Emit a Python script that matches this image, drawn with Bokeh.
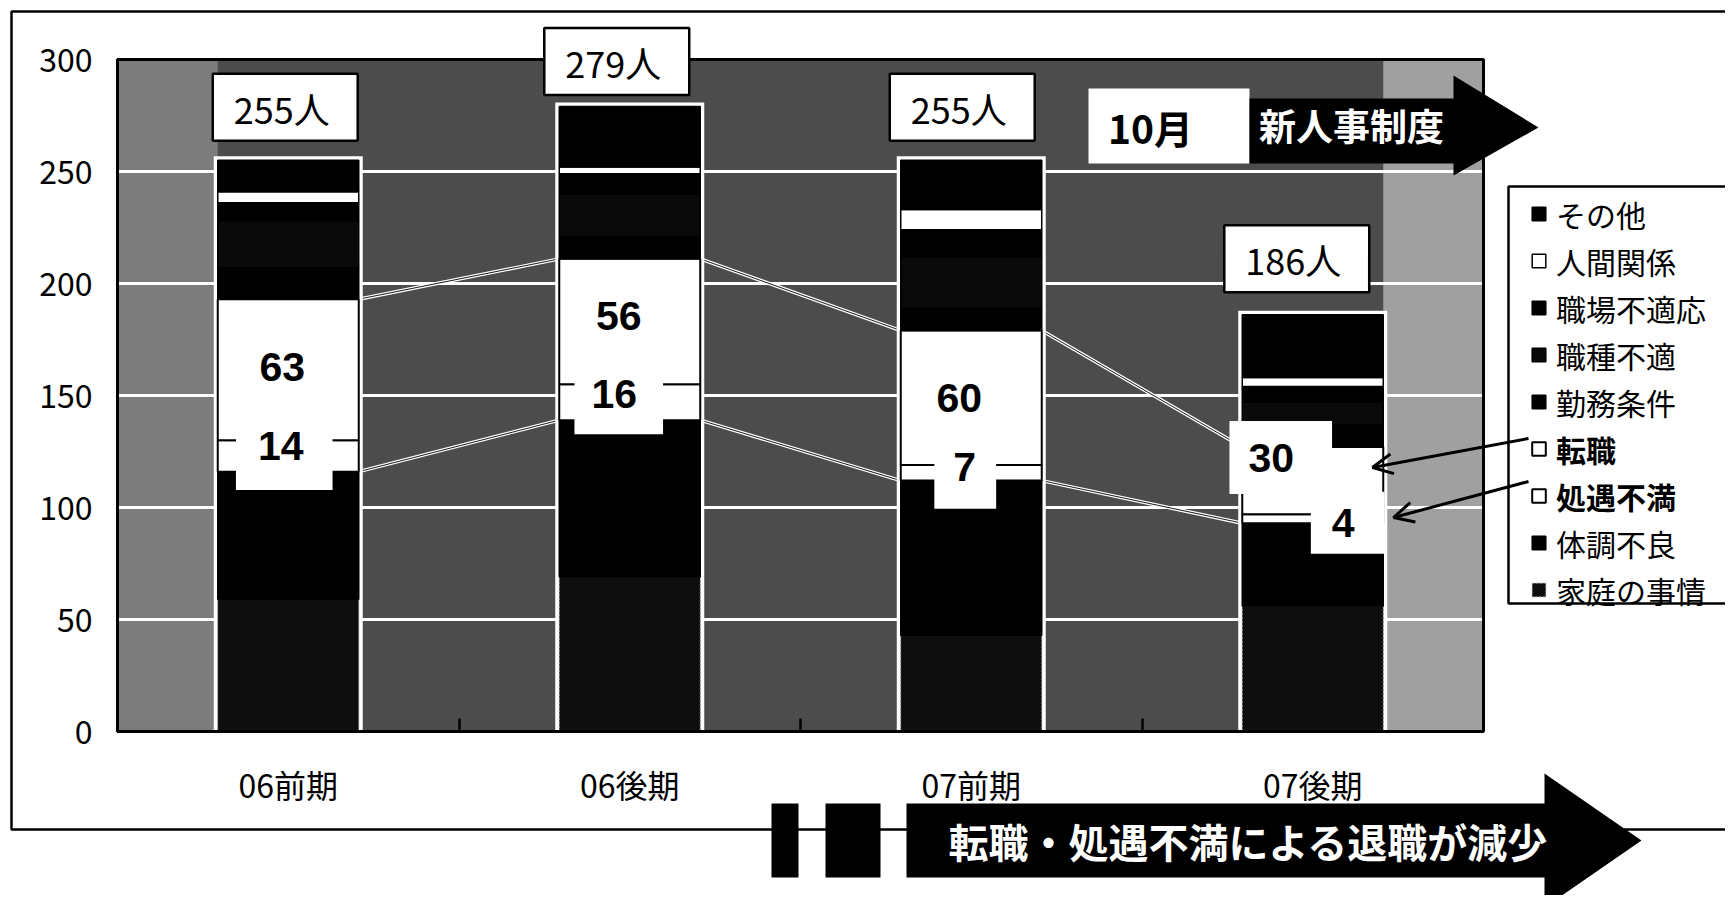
from bokeh.plotting import figure
from bokeh.models import (Range1d, FixedTicker, Label, Legend, LegendItem,
                          BoxAnnotation, PolyAnnotation, Arrow, OpenHead, ColumnDataSource)
from bokeh.embed import file_html
from bokeh.resources import INLINE

# ---------------- data ----------------
categories = ["06前期", "06後期", "07前期", "07後期"]
katei_no_jijou = [59, 69, 43, 56]      # 家庭の事情
taichou_furyou = [57, 70, 69, 37]      # 体調不良
shoguu_fuman = [14, 16, 7, 4]          # 処遇不満
tenshoku = [63, 56, 60, 30]            # 転職
kinmu_jouken = [14, 10, 10, 10]        # 勤務条件
shokushu_futeki = [21, 19, 23, 10]     # 職種不適
shokuba_futekiou = [8, 9, 12, 7]       # 職場不適応
ningen_kankei = [5, 3, 9, 4]           # 人間関係
sonota = [14, 27, 22, 28]              # その他
series_names = ["家庭の事情", "体調不良", "処遇不満", "転職", "勤務条件",
                "職種不適", "職場不適応", "人間関係", "その他"]
y_ticks = [0, 50, 100, 150, 200, 250, 300]
total_suffix = "人"
month_text = "10月"
arrow_text_top = "新人事制度"
arrow_text_bottom = "転職・処遇不満による退職が減少"

series_values = [katei_no_jijou, taichou_furyou, shoguu_fuman, tenshoku, kinmu_jouken,
                 shokushu_futeki, shokuba_futekiou, ningen_kankei, sonota]

# ---------------- layout (page pixels) ----------------
W_PX, H_PX = 1725, 895
FL, FT, FR, FB = 117, 59, 1483, 731          # plot area edges on the page
n = len(categories)
XS = (FR - FL) / n
YS = (FB - FT) / (y_ticks[-1] - y_ticks[0])


def X(px):
    return (px - FL) / XS


def Y(py):
    return (FB - py) / YS


JP = "Noto Sans CJK JP"
NUM = "Liberation Sans"
BAR_W = 141 / XS

p = figure(width=W_PX, height=H_PX, x_range=Range1d(X(0), X(W_PX)),
           y_range=Range1d(Y(H_PX), Y(0)),
           output_backend="svg", toolbar_location=None, title=None,
           min_border=0, min_border_left=0, min_border_right=0,
           min_border_top=0, min_border_bottom=0)
p.background_fill_color = "white"
p.border_fill_color = "white"
p.outline_line_color = None
p.xgrid.visible = False
p.ygrid.visible = False

centers = [i + 0.5 for i in range(n)]
bounds = list(range(1, n))

# axes placed on the plot area
p.yaxis.fixed_location = 0
p.yaxis.bounds = (y_ticks[0], y_ticks[-1])
p.yaxis.ticker = FixedTicker(ticks=y_ticks)
p.yaxis.major_tick_in = 0
p.yaxis.major_tick_out = 0
p.yaxis.minor_tick_line_color = None
p.yaxis.axis_line_width = 3
p.yaxis.major_label_text_font = JP
p.yaxis.major_label_text_font_size = "32px"
p.yaxis.major_label_text_color = "black"
p.yaxis.major_label_standoff = 25

p.xaxis.fixed_location = y_ticks[0]
p.xaxis.bounds = (0, n)
p.xaxis.ticker = FixedTicker(ticks=centers, minor_ticks=bounds)
p.xaxis.major_label_overrides = {c: cat for c, cat in zip(centers, categories)}
p.xaxis.major_tick_in = 0
p.xaxis.major_tick_out = 0
p.xaxis.minor_tick_in = 13
p.xaxis.minor_tick_out = 0
p.xaxis.minor_tick_line_width = 2.5
p.xaxis.minor_tick_line_color = "black"
p.xaxis.axis_line_width = 3
p.xaxis.major_label_text_font = JP
p.xaxis.major_label_text_font_size = "32px"
p.xaxis.major_label_text_color = "black"
p.xaxis.major_label_standoff = 29

# outer frame of the slide
p.quad(left=[X(11)], right=[X(1760)], top=[Y(11)], bottom=[Y(829)],
       fill_color=None, line_color="black", line_width=2.5, level="image")

# plot-area background (grey), lighter end columns
p.quad(left=[0], right=[n], bottom=[y_ticks[0]], top=[y_ticks[-1]],
       fill_color="#4c4c4c", line_color=None, level="image")
p.quad(left=[0, centers[-1] + BAR_W / 2], right=[centers[0] - BAR_W / 2, n],
       bottom=y_ticks[0], top=y_ticks[-1], fill_color=["#7c7c7c", "#a0a0a0"],
       line_color=None, level="image")
# white grid lines
gt = y_ticks[1:-1]
p.segment(x0=[0] * len(gt), y0=gt, x1=[n] * len(gt), y1=gt,
          line_color="white", line_width=3, level="underlay")

# cumulative tops
cum = []
run = [0] * n
for vals in series_values:
    run = [a + b for a, b in zip(run, vals)]
    cum.append(run)
totals = cum[-1]
top_taichou = cum[1]
top_shoguu = cum[2]
top_tenshoku = cum[3]

# series lines (top of 転職 and top of 体調不良)
for tops in (top_tenshoku, top_taichou):
    x0 = [c + BAR_W / 2 for c in centers[:-1]]
    x1 = [c - BAR_W / 2 for c in centers[1:]]
    p.segment(x0=x0, y0=tops[:-1], x1=x1, y1=tops[1:], line_color="white", line_width=3.5)
    p.segment(x0=x0, y0=tops[:-1], x1=x1, y1=tops[1:], line_color="black", line_width=0.9)

# white surround of each bar
p.vbar(x=centers, top=[t + 4 / YS for t in totals], width=BAR_W + 8 / XS,
       fill_color="white", line_color=None)

# stacked bars
src = ColumnDataSource(dict(x=centers, **{nm: v for nm, v in zip(series_names, series_values)}))
fills = ["#0e0e0e", "black", "white", "white", "black", "#0a0a0a", "black", "white", "black"]
lcols = ["#8c8c8c", "black", "black", "black", "black", "black", "black", "black", "black"]
ldash = ["2 2", "solid", "solid", "solid", "solid", "solid", "solid", "solid", "solid"]
lwid = [1, 1.5, 2, 2, 1.5, 1.5, 1.5, 1.5, 1.5]
renderers = p.vbar_stack(series_names, x="x", width=BAR_W, source=src,
                         fill_color=fills, line_color=lcols, line_dash=ldash, line_width=lwid)
rmap = dict(zip(series_names, renderers))

# plot-area border
p.quad(left=[0], right=[n], bottom=[y_ticks[0]], top=[y_ticks[-1]],
       fill_color=None, line_color="black", line_width=3)

# 10月 box + 新人事制度 arrow
p.add_layout(BoxAnnotation(left=X(1088), right=X(1249), top=Y(88), bottom=Y(163),
                           fill_color="white", fill_alpha=1, line_color=None))
p.add_layout(Label(x=X(1150), y=Y(126), text=month_text, text_font=JP, text_font_size="39px",
                   text_font_style="bold", text_align="center", text_baseline="middle",
                   text_color="black"))
p.add_layout(PolyAnnotation(
    xs=[X(1249), X(1453), X(1453), X(1538), X(1453), X(1453), X(1249)],
    ys=[Y(98), Y(98), Y(75), Y(127), Y(175), Y(163), Y(163)],
    fill_color="black", fill_alpha=1, line_color=None))
p.add_layout(Label(x=X(1351), y=Y(124), text=arrow_text_top, text_font=JP, text_font_size="37px",
                   text_font_style="bold", text_align="center", text_baseline="middle",
                   text_color="white"))

# total labels
tot_off = [(-3, 53), (-13, 45), (-9, 53), (-16, 56)]
for c, t, (dx, dy) in zip(centers, totals, tot_off):
    p.add_layout(Label(x=c, y=t, x_offset=dx, y_offset=dy, text=f"{t}{total_suffix}",
                       text_font=JP, text_font_size="36px", text_align="center",
                       text_baseline="middle", text_color="black",
                       background_fill_color="white", border_line_color="black",
                       border_line_width=2.5,
                       padding=dict(left=21, right=28, top=8, bottom=7)))

# value labels for 転職 and 処遇不満
ten_off = [(-6, 3), (-11, 6), (-12, 0), (-32, 23)]
ten_pad = [(2, 2, 2, 2), (2, 2, 2, 2), (2, 2, 2, 2), (19, 38, 23, 22)]
sho_off = [(-4, -2), (-11, 0), (-6, -5), (35, -4)]
sho_pad = [(22, 29, 6, 30), (17, 26, 10, 26), (19, 20, 6, 28), (21, 30, 17, 17)]
for vals, tops, offs, pads in ((tenshoku, top_tenshoku, ten_off, ten_pad),
                               (shoguu_fuman, top_shoguu, sho_off, sho_pad)):
    for c, v, t, (dx, dy), (pl, pr, pt, pb) in zip(centers, vals, tops, offs, pads):
        p.add_layout(Label(x=c, y=t - v / 2, x_offset=dx, y_offset=dy, text=str(v),
                           text_font=NUM, text_font_size="41px", text_font_style="bold",
                           text_align="center", text_baseline="middle", text_color="black",
                           background_fill_color="white",
                           padding=dict(left=pl, right=pr, top=pt, bottom=pb)))

# legend box + legends
p.add_layout(BoxAnnotation(left=X(1508), right=X(1760), top=Y(186), bottom=Y(603),
                           fill_color="white", fill_alpha=1, line_color="black",
                           line_alpha=1, line_width=2.5))
order = series_names[::-1]
row_h = 47
first_top = 190
groups = [(order[:5], "normal"), (order[5:7], "bold"), (order[7:], "normal")]
start = 0
for names, style in groups:
    bottom_px = first_top + (start + len(names)) * row_h
    start += len(names)
    lg = Legend(items=[LegendItem(label=nm, renderers=[rmap[nm]]) for nm in names],
                location=(1530, H_PX - bottom_px), padding=0, margin=0, spacing=0,
                label_height=row_h, glyph_width=17, glyph_height=17, label_standoff=9,
                label_text_font=JP, label_text_font_size="30px", label_text_font_style=style,
                label_text_color="black", border_line_color=None, background_fill_alpha=0)
    p.add_layout(lg, "center")

# arrows from legend
for (xs0, ys0, xe, ye) in ((1528, 438, 1372, 467), (1528, 481, 1393, 517)):
    p.add_layout(Arrow(x_start=X(xs0), y_start=Y(ys0), x_end=X(xe), y_end=Y(ye),
                       line_width=3, line_color="black",
                       end=OpenHead(size=20, line_width=3, line_color="black")))

# bottom banner arrow
for l, r in ((771, 798), (825, 880)):
    p.add_layout(BoxAnnotation(left=X(l), right=X(r), top=Y(803), bottom=Y(877),
                               fill_color="black", fill_alpha=1, line_color=None))
p.add_layout(PolyAnnotation(
    xs=[X(906), X(1544), X(1544), X(1641), X(1544), X(1544), X(906)],
    ys=[Y(803), Y(803), Y(773), Y(840), Y(907), Y(877), Y(877)],
    fill_color="black", fill_alpha=1, line_color=None))
p.add_layout(Label(x=X(1248), y=Y(840), text=arrow_text_bottom, text_font=JP,
                   text_font_size="40px", text_font_style="bold", text_align="center",
                   text_baseline="middle", text_color="white"))

open("out.html", "w", encoding="utf-8").write(file_html(p, INLINE))
